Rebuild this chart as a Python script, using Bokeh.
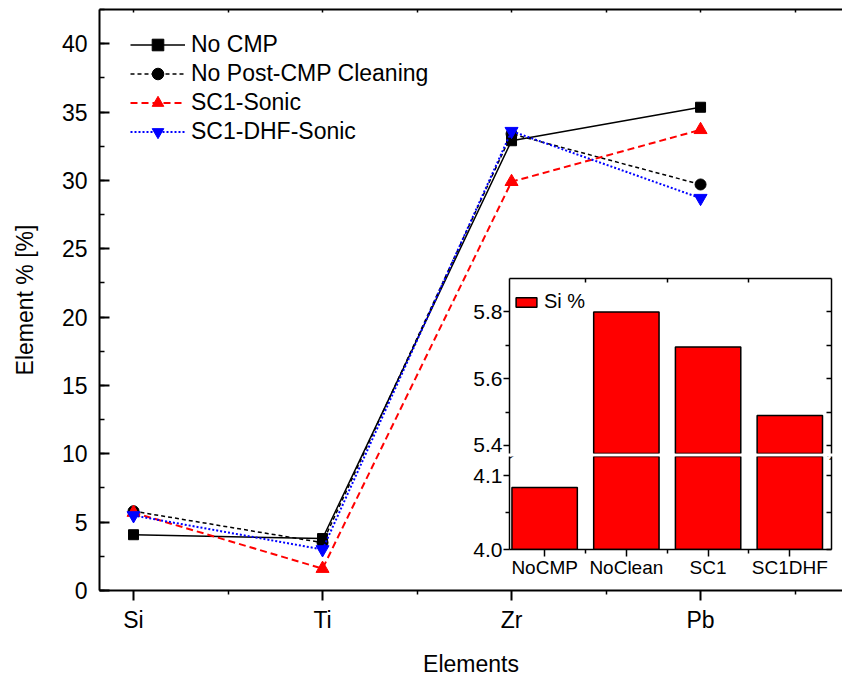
from bokeh.plotting import figure
from bokeh.models import (Range1d, FixedTicker, SingleIntervalTicker, LinearAxis,
                          Legend, LegendItem, Label, NumeralTickFormatter)
from bokeh.embed import file_html
from bokeh.resources import INLINE

# ---------------- data ----------------
elements = ["Si", "Ti", "Zr", "Pb"]
no_cmp = [4.08, 3.80, 32.9, 35.35]
no_post_cmp_cleaning = [5.80, 3.50, 33.4, 29.7]
sc1_sonic = [5.70, 1.60, 29.9, 33.7]
sc1_dhf_sonic = [5.49, 3.00, 33.6, 28.7]

inset_labels = ["NoCMP", "NoClean", "SC1", "SC1DHF"]
si_percent = [4.084, 5.80, 5.695, 5.49]
upper_major = [5.4, 5.6, 5.8]
upper_minor = [5.5, 5.7]
lower_major = [4.0, 4.1]
lower_minor = [4.05]

FONT = "Liberation Sans"


def bare_axis(ticks, tick_in, width):
    # an axis line with unlabeled inward tick marks only
    return LinearAxis(ticker=FixedTicker(ticks=[], minor_ticks=ticks),
                      major_tick_in=0, major_tick_out=0, major_label_standoff=0,
                      minor_tick_in=tick_in, minor_tick_out=0,
                      axis_line_width=width, minor_tick_line_width=1.5)


# ---------------- main plot ----------------
xs = list(range(1, len(elements) + 1))
p = figure(width=842, height=679, x_range=Range1d(0.82, 4.751), y_range=Range1d(0, 42.5),
           output_backend="svg", toolbar_location=None,
           min_border_left=99, min_border_right=0, min_border_top=9, min_border_bottom=88)
p.outline_line_color = None
p.xgrid.visible = False
p.ygrid.visible = False

mid_x = [x - 0.5 for x in xs] + [xs[-1] + 0.5]
x_ticker = FixedTicker(ticks=xs, minor_ticks=mid_x)

xax = p.xaxis[0]
xax.ticker = x_ticker
xax.major_label_overrides = {x: e for x, e in zip(xs, elements)}
xax.axis_label = "Elements"
yax = p.yaxis[0]
yax.ticker = SingleIntervalTicker(interval=5, num_minor_ticks=2)
yax.axis_label = "Element % [%]"

for ax in (xax, yax):
    ax.axis_line_width = 2
    ax.major_tick_line_width = 2
    ax.minor_tick_line_width = 1.5
    ax.major_label_text_font = FONT
    ax.major_label_text_font_size = "23px"
    ax.major_label_text_color = "black"
    ax.axis_label_text_font = FONT
    ax.axis_label_text_font_size = "23px"
    ax.axis_label_text_font_style = "normal"
    ax.axis_label_text_color = "black"

xax.major_tick_out = 10
xax.major_tick_in = 0
xax.minor_tick_out = 4
xax.minor_tick_in = 0
xax.major_label_standoff = 6
xax.axis_label_standoff = 15

yax.major_tick_in = 10
yax.major_tick_out = 0
yax.minor_tick_in = 5
yax.minor_tick_out = 0
yax.major_label_standoff = 12
yax.axis_label_standoff = 21

p.add_layout(bare_axis(xs + mid_x, 3, 2), "above")

r1 = p.line(xs, no_cmp, line_color="black", line_width=1.5)
m1 = p.scatter(xs, no_cmp, marker="square", size=10, color="black")
r2 = p.line(xs, no_post_cmp_cleaning, line_color="black", line_width=1.5, line_dash="4 3")
m2 = p.scatter(xs, no_post_cmp_cleaning, marker="circle", size=11, color="black")
r3 = p.line(xs, sc1_sonic, line_color="#ff0000", line_width=2, line_dash="7 4")
m3 = p.scatter(xs, sc1_sonic, marker="triangle", size=13, color="#ff0000")
r4 = p.line(xs, sc1_dhf_sonic, line_color="#0000ff", line_width=2, line_dash="2 2")
m4 = p.scatter(xs, sc1_dhf_sonic, marker="inverted_triangle", size=13, color="#0000ff")

legend = Legend(items=[
    LegendItem(label="No CMP", renderers=[r1, m1]),
    LegendItem(label="No Post-CMP Cleaning", renderers=[r2, m2]),
    LegendItem(label="SC1-Sonic", renderers=[r3, m3]),
    LegendItem(label="SC1-DHF-Sonic", renderers=[r4, m4]),
], location=(31, 444), glyph_width=55, glyph_height=29, label_height=29, spacing=-1,
    padding=0, margin=0, label_standoff=6, label_text_font=FONT,
    label_text_font_size="23px", label_text_color="black",
    background_fill_alpha=0, border_line_color=None)
p.add_layout(legend)

# ---------------- inset (broken y axis) ----------------
ix = list(range(1, len(inset_labels) + 1))
ix_mid = [x + 0.5 for x in ix[:-1]]
ix_ticker = FixedTicker(ticks=ix, minor_ticks=ix_mid)
inset_xr = Range1d(0.57, 4.51)
upper_yr = Range1d(5.376, 5.9)
lower_yr = Range1d(4.0, 4.126)

# bars that reach into the upper segment of the broken axis
up_x = [x for x, v in zip(ix, si_percent) if v > upper_yr.start]
up_v = [v for v in si_percent if v > upper_yr.start]


def style_axis(ax, size="21px"):
    ax.axis_line_width = 1.5
    ax.major_tick_line_width = 1.5
    ax.minor_tick_line_width = 1.5
    ax.major_label_text_font = FONT
    ax.major_label_text_font_size = size
    ax.major_label_text_color = "black"


up = figure(frame_width=322, frame_height=175, x_range=inset_xr, y_range=upper_yr,
            output_backend="svg", toolbar_location=None, x_axis_location=None,
            min_border_left=100, min_border_right=10, min_border_top=10, min_border_bottom=12)
up.outline_line_color = None
up.grid.visible = False
up.border_fill_alpha = 0
uyl = up.yaxis[0]
uyl.ticker = FixedTicker(ticks=upper_major, minor_ticks=upper_minor)
uyl.formatter = NumeralTickFormatter(format="0.0")
style_axis(uyl)
uyl.major_tick_out = 6
uyl.major_tick_in = 0
uyl.minor_tick_out = 4
uyl.minor_tick_in = 0
uyl.major_label_standoff = 1
up.add_layout(bare_axis(upper_major + upper_minor, 5, 1.5), "right")
up.add_layout(bare_axis(ix_mid, 4, 1.5), "above")
bu = up.vbar(x=up_x, top=up_v, bottom=lower_yr.start, width=0.8, fill_color="#ff0000",
             line_color="black", line_width=1.5)
ileg = Legend(items=[LegendItem(label="Si %", renderers=[bu])], location=(4, 140),
              glyph_width=26, glyph_height=12, padding=0, margin=0, spacing=0,
              label_standoff=5, label_text_font=FONT, label_text_font_size="20px",
              label_text_color="black",
              background_fill_alpha=0, border_line_color=None)
up.add_layout(ileg)

lo = figure(frame_width=322, frame_height=93, x_range=inset_xr, y_range=lower_yr,
            output_backend="svg", toolbar_location=None,
            min_border_left=100, min_border_right=11, min_border_top=20, min_border_bottom=40)
lo.outline_line_color = None
lo.grid.visible = False
lo.border_fill_alpha = 0
lyl = lo.yaxis[0]
lyl.ticker = FixedTicker(ticks=lower_major, minor_ticks=lower_minor)
lyl.formatter = NumeralTickFormatter(format="0.0")
style_axis(lyl)
lyl.major_tick_out = 6
lyl.major_tick_in = 0
lyl.minor_tick_out = 4
lyl.minor_tick_in = 0
lyl.major_label_standoff = 1
lxb = lo.xaxis[0]
lxb.ticker = ix_ticker
lxb.major_label_overrides = {x: n for x, n in zip(ix, inset_labels)}
style_axis(lxb, "19px")
lxb.major_tick_out = 7
lxb.major_tick_in = 0
lxb.minor_tick_out = 4
lxb.minor_tick_in = 0
lxb.major_label_standoff = 0
lo.add_layout(bare_axis(lower_major + lower_minor, 5, 1.5), "right")
lo.vbar(x=ix, top=si_percent, bottom=lower_yr.start, width=0.8, fill_color="#ff0000",
        line_color="black", line_width=1.5)
# axis-break marks at both ends of the gap
for bx in (inset_xr.start, inset_xr.end):
    lo.add_layout(Label(x=bx, y=lower_yr.end, y_offset=1, text="=", angle=0.6,
                        text_align="center", text_baseline="middle", text_font=FONT,
                        text_font_size="16px", text_color="black"))

# the inset plots float over the main plot (separate roots, absolutely positioned)
up.styles = {"position": "absolute", "left": "409px", "top": "268px"}
lo.styles = {"position": "absolute", "left": "409px", "top": "436px"}

open("out.html", "w").write(file_html([p, up, lo], INLINE))
